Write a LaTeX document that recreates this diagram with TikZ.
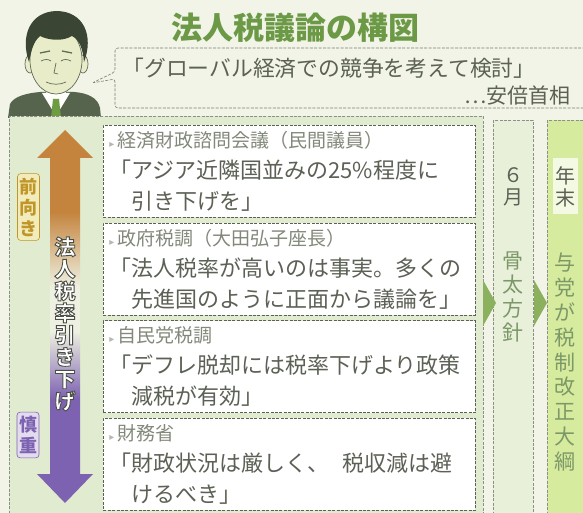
\documentclass[tikz,border=0pt]{standalone}
\usepackage{fontspec}
\setmainfont{Noto Sans CJK JP}
\newfontfamily\symfont{DejaVu Sans}
\usetikzlibrary{positioning}
\definecolor{paper}{HTML}{F1F4E7}
\definecolor{panel}{HTML}{E1EBCF}
\definecolor{ink}{HTML}{5B6155}
\definecolor{inklt}{HTML}{82897A}
\definecolor{leaf}{HTML}{6C9946}
\definecolor{leafgray}{HTML}{7C9868}
\definecolor{chevgreen}{HTML}{8BB05E}
\definecolor{lime}{HTML}{D6EB9D}
\definecolor{junefill}{HTML}{E8F0DA}
\definecolor{orng}{HTML}{C4843E}
\definecolor{purp}{HTML}{7D62B2}
\definecolor{fade}{HTML}{EEF0E1}
\definecolor{gold}{HTML}{BF9627}
\definecolor{goldpale}{HTML}{F2EBBB}
\definecolor{purppale}{HTML}{E2DCEE}
\definecolor{hair}{HTML}{3A4633}
\definecolor{skin}{HTML}{E8ECC8}
\definecolor{suit}{HTML}{56634D}
\definecolor{tie}{HTML}{6E9C42}
\pgfdeclareverticalshading{ratefade}{100bp}{color(0bp)=(purp); color(39bp)=(purp);
  color(48bp)=(fade); color(54bp)=(fade); color(64bp)=(orng); color(100bp)=(orng)}
\newcommand\speaker[1]{{\fontsize{19}{31}\selectfont\color{inklt}%
  {\symfont\fontsize{10}{31}\selectfont\color{inklt!60}▸}\,#1}}
% white letters with a dark rim (fill and stroke render mode)
\newcommand\rimtext[1]{\special{pdf:literal direct 2 Tr 0.9 w 0.29 0.31 0.27 RG}#1\special{pdf:literal direct 0 Tr}}

\begin{document}
\begin{tikzpicture}[x=1pt, y=-1pt,
  dashline/.style={dash pattern=on 3pt off 1.4pt, line width=0.6pt},
  stmt/.style={draw=ink, dashline, fill=white, minimum width=372pt,
               minimum height=92pt, text width=360pt, inner xsep=6pt,
               align=left, text=ink, font=\fontsize{22}{31}\selectfont},
  colbox/.style={draw=ink!70, dashline, minimum height=400pt, inner sep=0pt},
  coltext/.style={align=center, text=ink, font=\fontsize{20}{22}\selectfont},
  tag/.style={rounded corners=3pt, line width=0.6pt, align=center, inner xsep=2pt,
              inner ysep=4pt, font=\fontsize{18}{21}\selectfont\bfseries},
  vlab/.style={align=center, font=\fontsize{21}{22}\selectfont\bfseries},
  face/.style={draw=hair!80, line width=0.7pt}
]
\useasboundingbox (0,0) rectangle (583,513);
\fill[paper] (0,0) rectangle (583,513);
% ---------------- Portrait ----------------
\fill[suit] (8,118) -- (10,104) .. controls (14,96) and (28,93) .. (40,92)
  -- (74,92) .. controls (88,93) and (98,98) .. (100,108) -- (101,118) -- cycle;
\fill[skin] (46,84) rectangle (66,97);
\fill[white!85!paper] (42,93) -- (56,116) -- (70,93) -- cycle;
\fill[tie] (53,99) -- (59,99) -- (61,118) -- (51,118) -- cycle;
\filldraw[fill=skin, face] (30,64) ellipse (5 and 9) (83,64) ellipse (5 and 9);
\filldraw[fill=skin, face] (56,60) ellipse (26 and 34);
\fill[hair] (29,62) .. controls (20,36) and (30,12) .. (56,11)
  .. controls (84,11) and (94,36) .. (84,62) .. controls (83,50) and (80,40) .. (72,36)
  .. controls (62,42) and (48,40) .. (40,36) .. controls (33,42) and (31,52) .. (29,62) -- cycle;
\draw[face, line width=1.3pt] (40,53) -- (50,51) (62,51) -- (72,53);
\draw[face] (41,61) .. controls (45,59) and (48,59) .. (51,61)
            (61,61) .. controls (64,59) and (67,59) .. (71,61);
\draw[face] (56,63) -- (54,73) -- (58,74);
\draw[face] (46,82) .. controls (52,85) and (60,85) .. (66,82);
% ---------------- Title and remark ----------------
\node[font=\fontsize{31}{31}\selectfont\bfseries, text=leaf] (title) at (295,28) {法人税議論の構図};
\draw[draw=ink!80, dashline, rounded corners=3pt] (590,48) -- (115,48) -- (115,72)
  -- (92,83) -- (115,79) -- (115,108) -- (590,108);
\node[anchor=west, text=ink, font=\fontsize{21.8}{24}\selectfont] (quote) at (119,68)
  {「グローバル経済での競争を考えて検討」};
\node[anchor=east, text=ink, font=\fontsize{21}{24}\selectfont] (pm) at (574,95) {…安倍首相};
% ---------------- Panel and columns ----------------
\node[colbox, fill=panel, anchor=north west, minimum width=474pt] (panel) at (9,116) {};
\node[colbox, fill=junefill, anchor=north west, minimum width=40pt] (june) at (493,120) {};
\node[colbox, fill=lime, anchor=north west, minimum width=40pt] (yearend) at (547,120) {};
\fill[chevgreen] (483,280) -- (496,303) -- (483,326) -- cycle;
\fill[chevgreen] (534,280) -- (547,303) -- (534,326) -- cycle;
% ---------------- Rate arrow ----------------
\shade[shading=ratefade] (65,130) -- (93,158) -- (80,158) -- (80,474) -- (93,474)
  -- (65,503) -- (37,474) -- (50,474) -- (50,158) -- (37,158) -- cycle;
\node[vlab, text=white] (rate) at (65,324) {\rimtext{法\\人\\税\\率\\引\\き\\下\\げ}};
\node[tag, draw=gold, fill=goldpale, text=gold] (keen) at (28.5,207) {前\\向\\き};
\node[tag, draw=purp, fill=purppale, text=purp] (wary) at (28,435) {慎\\重};
% ---------------- Statements ----------------
\node[stmt, anchor=north west] (s1) at (103,125)
  {\speaker{経済財政諮問会議（民間議員）}\\
   「アジア近隣国並みの25\%程度に\\
   \phantom{「}引き下げを」};
\node[stmt, below=5pt of s1] (s2)
  {\speaker{政府税調（大田弘子座長）}\\
   「法人税率が高いのは事実。多くの\\
   \phantom{「}先進国のように正面から議論を」};
\node[stmt, below=5pt of s2] (s3)
  {\speaker{自民党税調}\\
   「デフレ脱却には税率下げより政策\\
   \phantom{「}減税が有効」};
\node[stmt, below=5pt of s3] (s4)
  {\speaker{財務省}\\
   「財政状況は厳しく、\hspace{0.6em}税収減は避\\
   \phantom{「}けるべき」};
% ---------------- Schedule ----------------
\node[coltext] (jun-m) at (513,187) {６\\月};
\node[coltext, text=leafgray, font=\fontsize{21}{24}\selectfont] (jun-p) at (513,297) {骨\\太\\方\\針};
\fill[white!70!lime] (553,158) rectangle (578,214);
\node[coltext] (dec-m) at (565,187) {年\\末};
\node[coltext, text=leafgray, font=\fontsize{21}{24.8}\selectfont] (dec-p) at (565,362)
  {与\\党\\が\\税\\制\\改\\正\\大\\綱};
\end{tikzpicture}
\end{document}
